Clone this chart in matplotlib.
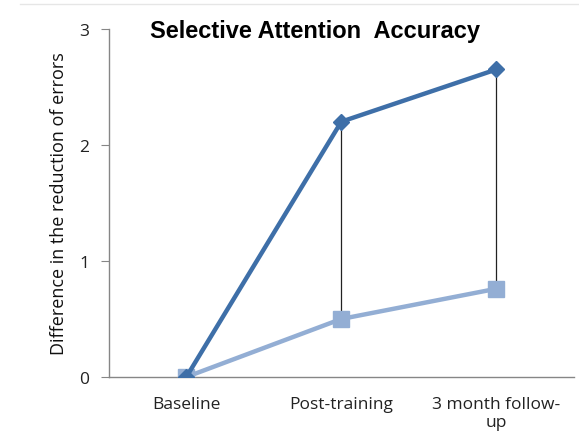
import matplotlib.pyplot as plt
from matplotlib.lines import Line2D

categories = ["Baseline", "Post-training", "3 month follow-\nup"]
series_dark = [0, 2.2, 2.65]
series_light = [0, 0.5, 0.76]
yticks = [0, 1, 2, 3]

plt.rcParams["font.family"] = ["Open Sans", "DejaVu Sans"]

fig = plt.figure(figsize=(5.79, 4.39), dpi=100)
ax = fig.add_axes([0.188, 0.139, 0.803, 0.793])

x = list(range(len(categories)))

# high-low lines between the two series
for xi, hi, lo in zip(x, series_dark, series_light):
    if hi != lo:
        ax.vlines(xi, lo, hi, color="#222222", lw=0.9, zorder=2)

ax.plot(x, series_light, color="#93AED4", lw=3.2, marker="s", markersize=11,
        markerfacecolor="#93AED4", markeredgecolor="#93AED4", zorder=3)
ax.plot(x, series_dark, color="#3E6FA8", lw=3.2, marker="D", markersize=8,
        markerfacecolor="#3E6FA8", markeredgecolor="#3E6FA8", zorder=4)

ax.set_xlim(-0.5, 2.5)
ax.set_ylim(0, 3)
ax.set_yticks(yticks)
ax.set_xticks(x)
ax.set_xticklabels(categories, fontsize=12.5, color="#222222", linespacing=1.15)
ax.tick_params(axis="x", length=0, pad=14)
ax.tick_params(axis="y", length=6, color="#868686", labelsize=12.5,
               labelcolor="#222222", pad=8)

for side in ["top", "right"]:
    ax.spines[side].set_visible(False)
for side in ["left", "bottom"]:
    ax.spines[side].set_color("#868686")
    ax.spines[side].set_linewidth(1)

ax.set_ylabel("Difference in the reduction of errors", fontsize=13,
              color="#111111", labelpad=8)

fig.text(0.544, 0.929, "Selective Attention  Accuracy", ha="center", va="center",
         fontsize=17, fontweight="bold", family=["Liberation Sans", "DejaVu Sans"])

# faint frame line at the top
fig.add_artist(Line2D([0.035, 1.0], [0.988, 0.988], color="#e6e6e6", lw=1))

fig.savefig("out.png", dpi=100)
